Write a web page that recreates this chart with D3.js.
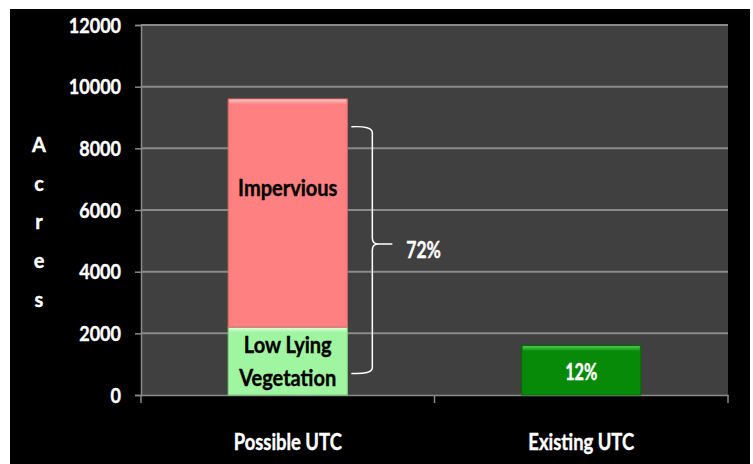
<!DOCTYPE html>
<html>
<head>
<meta charset="utf-8">
<script src="https://cdnjs.cloudflare.com/ajax/libs/d3/7.8.5/d3.min.js"></script>
<style>
  body { margin: 0; background: #fff; }
  text { font-family: Lato, "Open Sans", sans-serif; font-weight: bold; }
</style>
</head>
<body>
<div id="chart"></div>
<script>
// values
var categories = ["Possible UTC", "Existing UTC"];
var lowLying = [2200, 0];
var impervious = [7400, 0];
var existing = [0, 1600];
var yTicks = [0, 2000, 4000, 6000, 8000, 10000, 12000];
var axisLetters = ["A", "c", "r", "e", "s"];

var W = 753, H = 464;
var plot = {left: 141, right: 728, top: 25, bottom: 395};

var svg = d3.select("#chart").append("svg")
    .attr("width", W)
    .attr("height", H);

// narrow the text a little (the original font is condensed) and thicken it
function squeeze(sel, f) {
    sel.each(function() {
        var len = this.getComputedTextLength();
        var t = d3.select(this);
        t.attr("textLength", len * f)
            .attr("lengthAdjust", "spacingAndGlyphs")
            .attr("stroke", t.attr("fill"))
            .attr("stroke-width", 0.4);
    });
}

// bevel gradients
var defs = svg.append("defs");
function bevel(id, light, base) {
    var g = defs.append("linearGradient").attr("id", id)
        .attr("x1", 0).attr("y1", 0).attr("x2", 0).attr("y2", 1);
    g.append("stop").attr("offset", "0%").attr("stop-color", light);
    g.append("stop").attr("offset", "100%").attr("stop-color", base);
}
bevel("topPink", "#ffc0c0", "#ff8080");
bevel("topLight", "#e0ffe0", "#a0f5a0");
bevel("topDark", "#50d050", "#078a07");

// black panel
svg.append("rect")
    .attr("x", 10).attr("y", 9)
    .attr("width", 740).attr("height", H - 9)
    .attr("fill", "#000");

// plot area
svg.append("rect")
    .attr("x", plot.left).attr("y", plot.top)
    .attr("width", plot.right - plot.left)
    .attr("height", plot.bottom - plot.top)
    .attr("fill", "#404040");

var x = d3.scaleBand()
    .domain(categories)
    .range([plot.left, plot.right])
    .paddingInner(0.594)
    .paddingOuter(0.297);

var y = d3.scaleLinear()
    .domain([0, 12000])
    .range([plot.bottom, plot.top]);

// gridlines
svg.append("g")
    .selectAll("line")
    .data(yTicks.slice(1))
    .enter().append("line")
    .attr("x1", plot.left).attr("x2", plot.right)
    .attr("y1", function(d) { return y(d); })
    .attr("y2", function(d) { return y(d); })
    .attr("stroke", "#8a8a8a")
    .attr("stroke-width", 2);

// y axis
var yAxis = svg.append("g")
    .attr("transform", "translate(" + plot.left + ",0)")
    .call(d3.axisLeft(y).tickValues(yTicks).tickFormat(d3.format("d")).tickSize(6).tickPadding(14));
yAxis.select(".domain").attr("stroke", "#8a8a8a").attr("stroke-width", 1.5);
yAxis.selectAll(".tick line").attr("stroke", "#8a8a8a").attr("stroke-width", 1.5);
yAxis.selectAll(".tick text")
    .attr("fill", "#fff")
    .attr("font-family", null)
    .attr("font-size", "20px")
    .attr("dy", "0.36em");

// x axis
var xAxis = svg.append("g")
    .attr("transform", "translate(0," + plot.bottom + ")")
    .call(d3.axisBottom(x).tickSize(0).tickPadding(39));
xAxis.select(".domain").attr("stroke", "#8a8a8a").attr("stroke-width", 1.5);
xAxis.selectAll(".tick text")
    .attr("fill", "#fff")
    .attr("font-family", null)
    .attr("font-size", "23px");

// x boundary ticks
var bounds = [plot.left, plot.left + (plot.right - plot.left) / 2, plot.right];
svg.append("g").selectAll("line")
    .data(bounds)
    .enter().append("line")
    .attr("x1", function(d) { return d; })
    .attr("x2", function(d) { return d; })
    .attr("y1", plot.bottom)
    .attr("y2", plot.bottom + 8)
    .attr("stroke", "#8a8a8a")
    .attr("stroke-width", 1.5);

// stacked bars
var rows = categories.map(function(c, i) {
    return {cat: c, low: lowLying[i], imp: impervious[i], ex: existing[i]};
});
var stack = d3.stack().keys(["low", "imp", "ex"])(rows);
var fills = {low: "#a0f5a0", imp: "#ff8080", ex: "#078a07"};
var tops = {low: "url(#topLight)", imp: "url(#topPink)", ex: "url(#topDark)"};
var edges = {low: "#7fd07f", imp: "#d86a6a", ex: "#056a05"};

stack.forEach(function(layer) {
    var key = layer.key;
    var segs = layer.filter(function(d) { return d[1] > d[0]; });
    var g = svg.append("g");
    g.selectAll("rect.bar")
        .data(segs)
        .enter().append("rect")
        .attr("class", "bar")
        .attr("x", function(d) { return x(d.data.cat); })
        .attr("y", function(d) { return y(d[1]); })
        .attr("width", x.bandwidth())
        .attr("height", function(d) { return y(d[0]) - y(d[1]); })
        .attr("fill", fills[key])
        .attr("stroke", edges[key])
        .attr("stroke-width", 1);
    g.selectAll("rect.top")
        .data(segs)
        .enter().append("rect")
        .attr("class", "top")
        .attr("x", function(d) { return x(d.data.cat) + 1; })
        .attr("y", function(d) { return y(d[1]) + 0.5; })
        .attr("width", x.bandwidth() - 2)
        .attr("height", 5)
        .attr("fill", tops[key]);
});

// labels inside bars
var cx0 = x(categories[0]) + x.bandwidth() / 2;
var cx1 = x(categories[1]) + x.bandwidth() / 2;
var inner = svg.append("g").attr("font-size", "23px").attr("text-anchor", "middle");
inner.append("text")
    .attr("x", cx0).attr("y", y(lowLying[0] + impervious[0] * 0.575))
    .attr("fill", "#000")
    .text("Impervious");
inner.append("text")
    .attr("x", cx0).attr("y", y(lowLying[0]) + 26)
    .attr("fill", "#000")
    .text("Low Lying");
inner.append("text")
    .attr("x", cx0).attr("y", y(lowLying[0]) + 59)
    .attr("fill", "#000")
    .text("Vegetation");
var p12 = inner.append("text")
    .attr("x", cx1).attr("y", y(existing[1] / 2) + 10)
    .attr("font-size", "22px")
    .attr("fill", "#fff")
    .text("12%");

// curly bracket
var bx = x(categories[0]) + x.bandwidth() + 4;
var yt = y(8700), yb = y(700), ym = y(4900);
var bw = 21, r = 6;
var brace = d3.path();
brace.moveTo(bx, yt);
brace.quadraticCurveTo(bx + bw, yt - 1, bx + bw, yt + r);
brace.lineTo(bx + bw, ym - r);
brace.quadraticCurveTo(bx + bw, ym, bx + bw + 6, ym);
brace.lineTo(bx + bw + 20, ym);
brace.moveTo(bx + bw + 6, ym);
brace.quadraticCurveTo(bx + bw, ym, bx + bw, ym + r);
brace.lineTo(bx + bw, yb - r);
brace.quadraticCurveTo(bx + bw, yb + 1, bx, yb);
svg.append("path")
    .attr("d", brace.toString())
    .attr("fill", "none")
    .attr("stroke", "#fff")
    .attr("stroke-width", 1.5);
var pct = svg.append("text")
    .attr("x", bx + bw + 34).attr("y", ym + 14)
    .attr("font-size", "23px")
    .attr("fill", "#fff")
    .text("72%");

// stacked y axis label
var letters = svg.append("g").selectAll("text")
    .data(axisLetters)
    .enter().append("text")
    .attr("x", 39)
    .attr("y", function(d, i) { return 152 + i * 38.7; })
    .attr("text-anchor", "middle")
    .attr("font-size", "21px")
    .attr("fill", "#fff")
    .text(function(d) { return d; });

squeeze(yAxis.selectAll(".tick text"), 0.9);
squeeze(xAxis.selectAll(".tick text"), 0.8);
squeeze(inner.selectAll("text"), 0.87);
squeeze(p12, 0.85);
squeeze(pct, 0.76);
squeeze(letters, 0.95);
</script>
</body>
</html>
